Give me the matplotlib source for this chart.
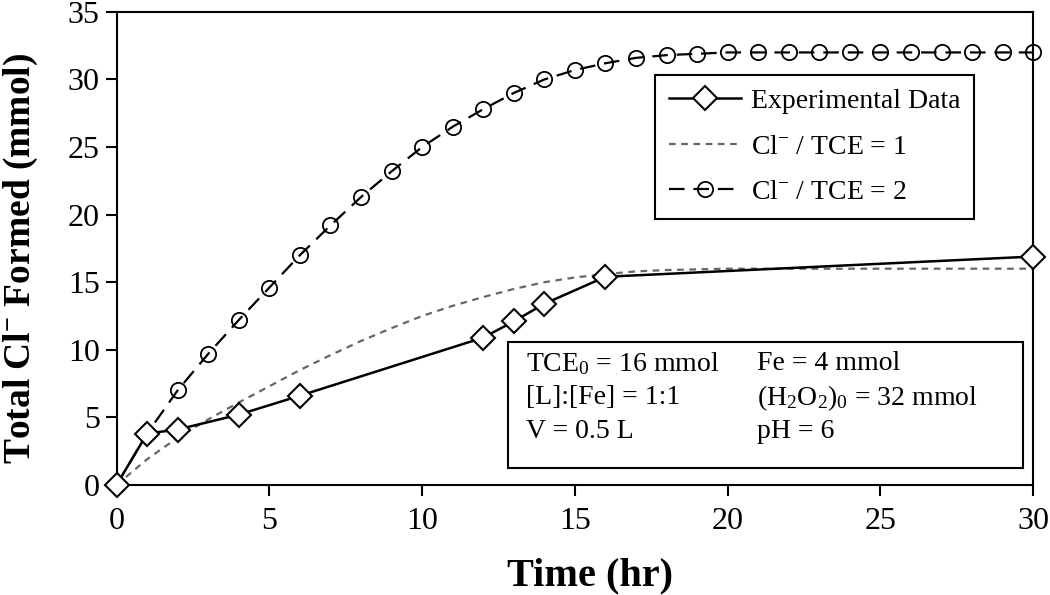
import numpy as np
import matplotlib.pyplot as plt
from matplotlib.patches import Rectangle

plt.rcParams['font.family'] = ['Liberation Serif', 'DejaVu Serif']
plt.rcParams['mathtext.fontset'] = 'custom'
plt.rcParams['mathtext.rm'] = 'Liberation Serif'
plt.rcParams['mathtext.it'] = 'Liberation Serif:italic'
plt.rcParams['mathtext.bf'] = 'Liberation Serif:bold'

# Dados experimentais
t_exp = [0, 1, 2, 4, 6, 12, 13, 14, 16, 30]
cl_exp = [0, 3.8, 4.1, 5.2, 6.6, 10.9, 12.1, 13.4, 15.4, 16.9]

# Curvas teoricas (Cl- / TCE = 1 e 2)
t_mod = list(range(0, 31))
cl_ratio1 = [0, 1.9, 3.5, 4.85, 6.1, 7.3, 8.5, 9.6, 10.65, 11.6, 12.5, 13.25, 13.9,
             14.5, 15.0, 15.35, 15.6, 15.8, 15.9, 15.95, 16, 16, 16, 16, 16, 16,
             16, 16, 16, 16, 16]
cl_ratio2 = [0, 3.8, 7.0, 9.7, 12.2, 14.6, 17.0, 19.2, 21.3, 23.2, 25.0, 26.5, 27.8,
             29.0, 30.0, 30.7, 31.2, 31.6, 31.8, 31.9, 32, 32, 32, 32, 32, 32,
             32, 32, 32, 32, 32]

fig = plt.figure(figsize=(10.5, 5.95), dpi=100)
ax = fig.add_axes([0.111, 0.185, 0.873, 0.795])

ax.plot(t_mod, cl_ratio2, color='black', linewidth=1.6, dashes=(7, 4),
        marker='o', markersize=11, markerfacecolor='none', markeredgewidth=1.3,
        label='Cl$^{-}$ / TCE = 2', zorder=3, clip_on=False)
ax.plot(t_mod, cl_ratio1, color='#666666', linewidth=1.6, dashes=(3, 2.5),
        label='Cl$^{-}$ / TCE = 1', zorder=2)
ax.plot(t_exp, cl_exp, color='black', linewidth=1.8, marker='D', markersize=12,
        markerfacecolor='white', markeredgewidth=1.5, label='Experimental Data',
        zorder=4, clip_on=False)

ax.set_xlim(0, 30)
ax.set_ylim(0, 35)
ax.set_xticks(np.arange(0, 31, 5))
ax.set_yticks(np.arange(0, 36, 5))
ax.tick_params(direction='out', length=8, width=1.5, labelsize=23)
ax.tick_params(axis='x', pad=8)
ax.tick_params(axis='y', pad=4)
for s in ax.spines.values():
    s.set_linewidth(1.5)

ax.set_xlabel('Time (hr)', fontsize=29, fontweight='bold')
ax.set_ylabel('Total Cl$^{\\mathbf{-}}$ Formed (mmol)', fontsize=27, fontweight='bold')
ax.xaxis.set_label_coords(0.516, -0.154)
ax.yaxis.set_label_coords(-0.083, 0.48)

handles, labels = ax.get_legend_handles_labels()
order = [2, 1, 0]
leg = ax.legend([handles[i] for i in order], [labels[i] for i in order],
                loc='upper left', bbox_to_anchor=(0.587, 0.867), borderaxespad=0,
                fontsize=20, fancybox=False, edgecolor='black', framealpha=1,
                handlelength=2.6, handletextpad=0.36, labelspacing=0.72,
                borderpad=0.5)
leg.get_frame().set_linewidth(1.5)

# Caixa com as condicoes experimentais
ax.add_patch(Rectangle((0.427, 0.036), 0.562, 0.266, transform=ax.transAxes,
                       facecolor='white', edgecolor='black', linewidth=1.5, zorder=5))
col1 = ['TCE$_0$ = 16 mmol', '[L]:[Fe] = 1:1', 'V = 0.5 L']
col2 = ['Fe = 4 mmol', '(H$_2$O$_2$)$_0$ = 32 mmol', 'pH = 6']
for i, (a, b) in enumerate(zip(col1, col2)):
    yy = 0.256 - i * 0.072
    ax.text(0.447, yy, a, transform=ax.transAxes, fontsize=20, va='center', zorder=6)
    ax.text(0.699, yy, b, transform=ax.transAxes, fontsize=20, va='center', zorder=6)

fig.savefig('out.png', dpi=100)
